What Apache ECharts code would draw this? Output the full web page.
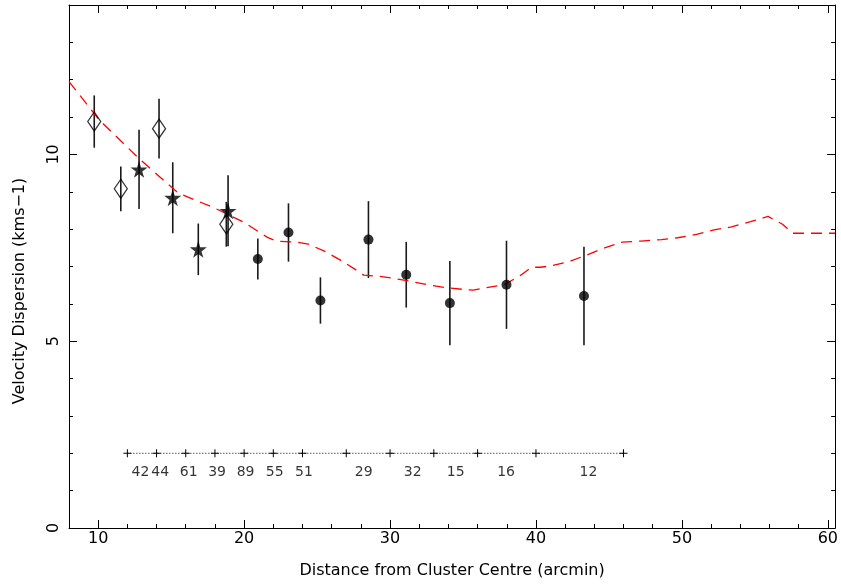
<!DOCTYPE html>
<html>
<head>
<meta charset="utf-8">
<script src="https://cdn.jsdelivr.net/npm/echarts@6/dist/echarts.min.js"></script>
<style>
  html, body { margin: 0; padding: 0; background: #fff; }
  #chart { width: 841px; height: 584px; }
</style>
</head>
<body>
<div id="chart"></div>
<script>
// Open diamonds: independent inner measurements
const diamondX = [9.73, 11.55, 14.17, 18.78];
const diamondY = [10.88, 9.08, 10.69, 8.13];
const diamondErr = [0.70, 0.60, 0.80, 0.60];

// Filled stars: inner radial bins
const starX = [12.8, 15.11, 16.86, 18.9];
const starY = [9.60, 8.84, 7.46, 8.49];
const starErr = [1.06, 0.95, 0.69, 0.95];

// Filled circles: outer radial bins
const circleX = [20.94, 23.04, 25.23, 28.52, 31.11, 34.10, 37.98, 43.29];
const circleY = [7.20, 7.91, 6.09, 7.72, 6.78, 6.02, 6.51, 6.21];
const circleErr = [0.55, 0.78, 0.62, 1.03, 0.88, 1.13, 1.18, 1.32];

// Model dispersion profile (red dashed curve)
const profileX = [8, 10.1, 12.8, 15.5, 17.9, 20.0, 21.6, 22.2, 23.6, 24.4, 25.5, 26.6, 27.7, 28.2,
  29.2, 30.1, 31.3, 32.6, 33.9, 35.2, 35.7, 36.4, 37.8, 38.9, 39.7, 40.3, 41.1, 42.4, 43.5,
  44.7, 45.9, 47.2, 48.6, 49.7, 51.0, 52.2, 53.4, 54.7, 55.9, 56.9, 57.6, 60.5];
const profileY = [11.95, 10.91, 9.89, 8.96, 8.58, 8.18, 7.78, 7.68, 7.65, 7.60, 7.41, 7.17, 6.90, 6.77,
  6.74, 6.69, 6.61, 6.51, 6.43, 6.38, 6.37, 6.42, 6.51, 6.75, 6.98, 6.98, 7.02, 7.15, 7.31,
  7.50, 7.65, 7.68, 7.72, 7.77, 7.86, 7.98, 8.06, 8.20, 8.34, 8.13, 7.89, 7.89];

// Radial bin edges and the number of galaxies in each bin
const binEdges = [12, 14, 16, 18, 20, 22, 24, 27, 30, 33, 36, 40, 46];
const binLevel = 2;
const binCounts = [42, 44, 61, 39, 89, 55, 51, 29, 32, 15, 16, 12];
const countLabelX = [12.9, 14.25, 16.2, 18.15, 20.1, 22.1, 24.1, 28.2, 31.55, 34.5, 37.95, 43.6];
const countLabelY = 1.48;

// Axis ticks
const xMajorTicks = [10, 20, 30, 40, 50, 60];
const yMajorTicks = [0, 5, 10];
const xRange = [8, 60.5];
const yRange = [0, 14];

const FONT = 'DejaVu Sans';
const INK = '#000';

const chart = echarts.init(document.getElementById('chart'), null, { renderer: 'canvas' });

function errRows(xs, ys, es) {
  return xs.map((x, i) => [x, ys[i] - es[i], ys[i] + es[i]]);
}
const errorRows = [].concat(
  errRows(diamondX, diamondY, diamondErr),
  errRows(starX, starY, starErr),
  errRows(circleX, circleY, circleErr)
);

function xAxisDef(position, major, withLabels) {
  const base = {
    type: 'value', position: position, min: xRange[0], max: xRange[1],
    splitLine: { show: false },
    axisLine: { show: major, onZero: false, lineStyle: { color: INK, width: 1 } }
  };
  if (major) {
    base.axisTick = { show: true, inside: true, length: 8, customValues: xMajorTicks, lineStyle: { color: INK } };
    base.axisLabel = withLabels
      ? { show: true, customValues: xMajorTicks, margin: 3, fontFamily: FONT, fontSize: 16, color: INK }
      : { show: false };
  } else {
    base.interval = 2;
    base.axisTick = { show: true, inside: true, length: 4, lineStyle: { color: INK } };
    base.axisLabel = { show: false };
  }
  if (withLabels) {
    base.name = 'Distance from Cluster Centre (arcmin)';
    base.nameLocation = 'middle';
    base.nameGap = 35;
    base.nameTextStyle = { fontFamily: FONT, fontSize: 16, color: INK };
  }
  return base;
}

function yAxisDef(position, major, withLabels) {
  const base = {
    type: 'value', position: position, min: yRange[0], max: yRange[1],
    splitLine: { show: false },
    axisLine: { show: major, onZero: false, lineStyle: { color: INK, width: 1 } }
  };
  if (major) {
    base.axisTick = { show: true, inside: true, length: 8, customValues: yMajorTicks, lineStyle: { color: INK } };
    base.axisLabel = withLabels
      ? { show: true, customValues: yMajorTicks, rotate: 90, margin: 7, fontFamily: FONT, fontSize: 16, color: INK }
      : { show: false };
  } else {
    base.interval = 1;
    base.axisTick = { show: true, inside: true, length: 4, lineStyle: { color: INK } };
    base.axisLabel = { show: false };
  }
  return base;
}

const starPath = 'path://M50,0 L61,35 L98,35 L68,57 L79,91 L50,70 L21,91 L32,57 L2,35 L39,35 Z';
const plusPath = 'path://M0,3.5 H8 V4.5 H0 Z M3.5,0 H4.5 V8 H3.5 Z';

const option = {
  backgroundColor: '#fff',
  animation: false,
  grid: { left: 69, right: 3, top: 5, bottom: 56, containLabel: false },
  xAxis: [
    xAxisDef('bottom', true, true),
    xAxisDef('bottom', false, false),
    xAxisDef('top', true, false),
    xAxisDef('top', false, false)
  ],
  yAxis: [
    yAxisDef('left', true, true),
    yAxisDef('left', false, false),
    yAxisDef('right', true, false),
    yAxisDef('right', false, false)
  ],
  graphic: [{
    type: 'text',
    x: 20, y: 291,
    rotation: Math.PI / 2,
    style: {
      text: 'Velocity Dispersion (kms\u22121)',
      fontFamily: FONT, fontSize: 16, fill: INK,
      align: 'center', verticalAlign: 'middle'
    }
  }],
  series: [
    {
      name: 'errors',
      type: 'custom',
      xAxisIndex: 0, yAxisIndex: 0,
      data: errorRows,
      renderItem: function (params, api) {
        const top = api.coord([api.value(0), api.value(2)]);
        const bot = api.coord([api.value(0), api.value(1)]);
        return {
          type: 'line',
          shape: { x1: top[0], y1: top[1], x2: bot[0], y2: bot[1] },
          style: { stroke: '#1a1a1a', lineWidth: 1.6 }
        };
      },
      z: 2
    },
    {
      name: 'profile',
      type: 'line',
      xAxisIndex: 0, yAxisIndex: 0,
      data: profileX.map((x, i) => [x, profileY[i]]),
      symbol: 'none',
      lineStyle: { color: '#ff0000', width: 1.3, type: [11, 7] },
      z: 3
    },
    {
      name: 'diamonds',
      type: 'scatter',
      xAxisIndex: 0, yAxisIndex: 0,
      data: diamondX.map((x, i) => [x, diamondY[i]]),
      symbol: 'diamond',
      symbolSize: [13, 19],
      itemStyle: { color: 'rgba(255,255,255,0)', borderColor: INK, borderWidth: 1.3 },
      z: 4
    },
    {
      name: 'stars',
      type: 'scatter',
      xAxisIndex: 0, yAxisIndex: 0,
      data: starX.map((x, i) => [x, starY[i]]),
      symbol: starPath,
      symbolSize: 17,
      itemStyle: { color: INK },
      z: 5
    },
    {
      name: 'circles',
      type: 'scatter',
      xAxisIndex: 0, yAxisIndex: 0,
      data: circleX.map((x, i) => [x, circleY[i]]),
      symbol: 'circle',
      symbolSize: 10,
      itemStyle: { color: INK },
      z: 5
    },
    {
      name: 'bins',
      type: 'line',
      xAxisIndex: 0, yAxisIndex: 0,
      data: binEdges.map(x => [x, binLevel]),
      symbol: plusPath,
      symbolSize: 8,
      itemStyle: { color: INK },
      lineStyle: { color: INK, width: 1, type: [1, 2] },
      z: 3
    },
    {
      name: 'counts',
      type: 'scatter',
      xAxisIndex: 0, yAxisIndex: 0,
      data: countLabelX.map((x, i) => [x, countLabelY, binCounts[i]]),
      symbolSize: 1,
      itemStyle: { color: 'rgba(0,0,0,0)' },
      label: {
        show: true, position: 'inside',
        formatter: p => String(p.value[2]),
        fontFamily: FONT, fontSize: 14, color: INK
      },
      z: 5
    }
  ]
};

chart.setOption(option);
</script>
</body>
</html>
